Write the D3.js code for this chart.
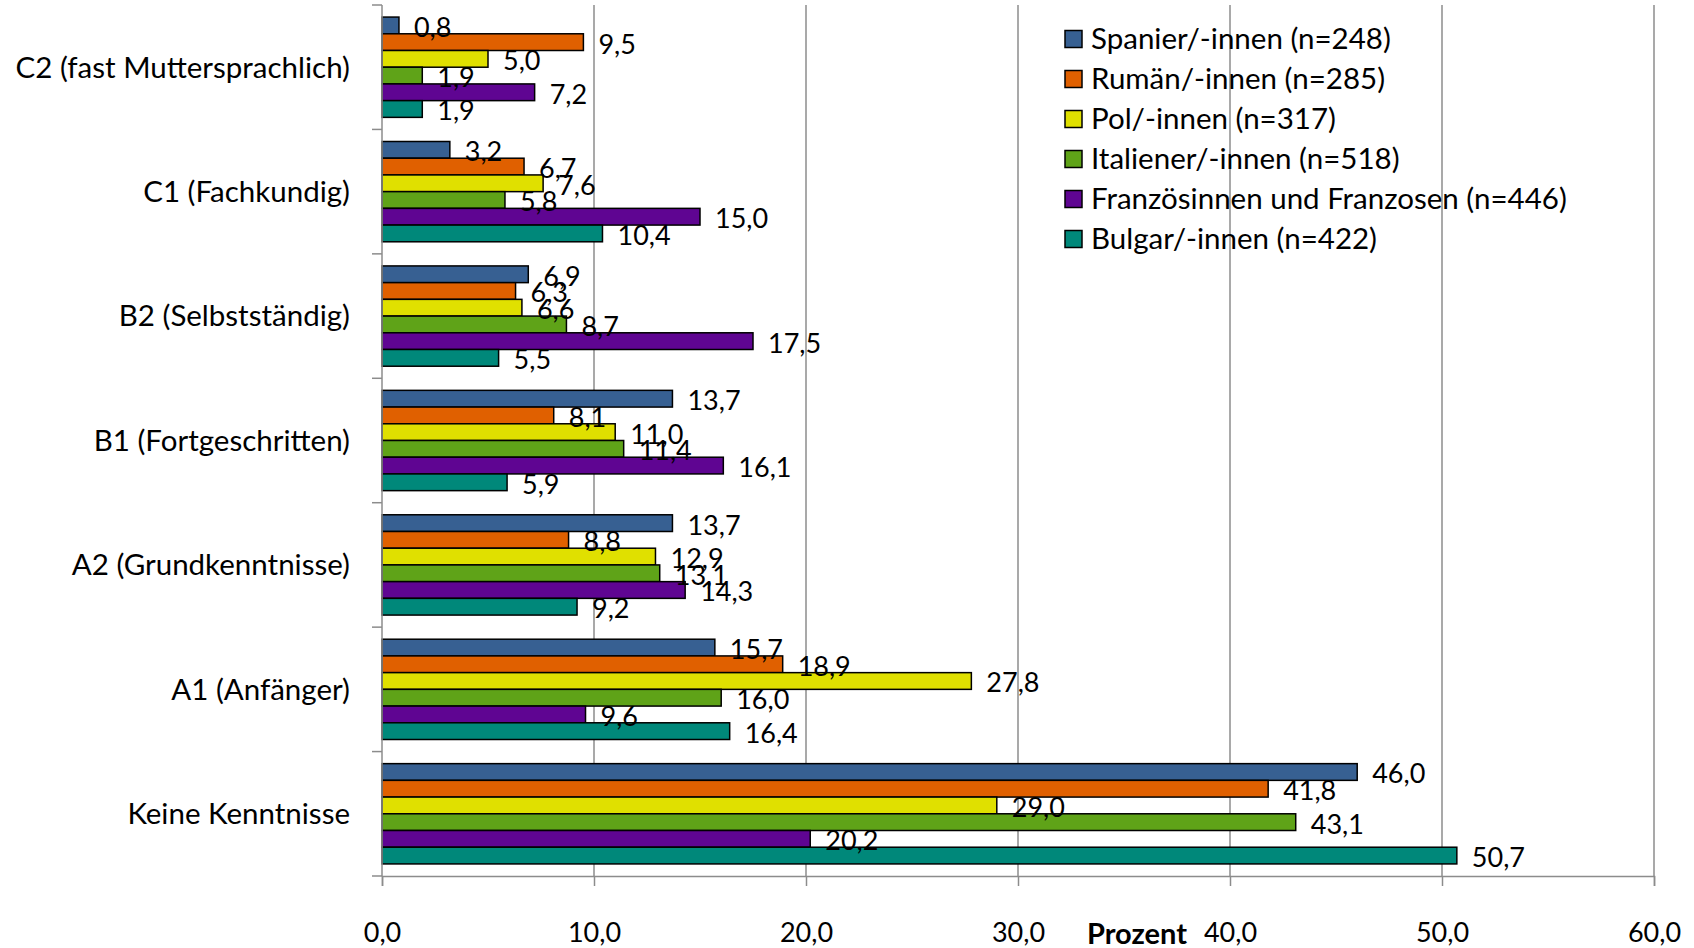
<!DOCTYPE html>
<html>
<head>
<meta charset="utf-8">
<script src="https://cdn.jsdelivr.net/npm/d3@7"></script>
<style>
  body { margin: 0; background: #fff; }
  svg { display: block; font-family: Lato, "Open Sans", sans-serif; }
</style>
</head>
<body>
<svg id="chart"></svg>
<script>
// Sprachkenntnisse nach Herkunft (Prozent)
var categories = ['C2 (fast Muttersprachlich)', 'C1 (Fachkundig)', 'B2 (Selbstständig)',
  'B1 (Fortgeschritten)', 'A2 (Grundkenntnisse)', 'A1 (Anfänger)', 'Keine Kenntnisse'];

var seriesNames = ['Spanier/-innen (n=248)', 'Rumän/-innen (n=285)', 'Pol/-innen (n=317)',
  'Italiener/-innen (n=518)', 'Französinnen und Franzosen (n=446)', 'Bulgar/-innen (n=422)'];

var spanier    = [0.8, 3.2, 6.9, 13.7, 13.7, 15.7, 46.0];
var rumaenen   = [9.5, 6.7, 6.3, 8.1, 8.8, 18.9, 41.8];
var polen      = [5.0, 7.6, 6.6, 11.0, 12.9, 27.8, 29.0];
var italiener  = [1.9, 5.8, 8.7, 11.4, 13.1, 16.0, 43.1];
var franzosen  = [7.2, 15.0, 17.5, 16.1, 14.3, 9.6, 20.2];
var bulgaren   = [1.9, 10.4, 5.5, 5.9, 9.2, 16.4, 50.7];

var xTicks = [0, 10, 20, 30, 40, 50, 60];
var colors = ['#376092', '#e06000', '#e0e000', '#5fa318', '#5f0592', '#00887a'];

var allSeries = [spanier, rumaenen, polen, italiener, franzosen, bulgaren];

var W = 1694, H = 948;
var margin = {top: 5, right: 40, bottom: 72, left: 382};
var width = 1654 - margin.left;
var height = 876 - margin.top;

var de = d3.formatLocale({decimal: ',', thousands: '.', grouping: [3], currency: ['', ' €']});
var fmt = de.format('.1f');

var svg = d3.select('#chart').attr('width', W).attr('height', H);
svg.append('rect').attr('width', W).attr('height', H).attr('fill', '#fff');

var g = svg.append('g')
    .attr('transform', 'translate(' + margin.left + ',' + margin.top + ')');

var x = d3.scaleLinear().domain([0, 60]).range([0, width]);
var y0 = d3.scaleBand().domain(categories).range([0, height])
    .paddingInner(0.194).paddingOuter(0.097);
var y1 = d3.scaleBand().domain(d3.range(seriesNames.length)).range([0, y0.bandwidth()]);

// gridlines
g.selectAll('.grid')
    .data(xTicks.slice(1))
    .enter().append('line')
    .attr('x1', function(d) { return x(d); })
    .attr('x2', function(d) { return x(d); })
    .attr('y1', 0)
    .attr('y2', height)
    .attr('stroke', '#8c8c8c')
    .attr('stroke-width', 1.5);

// bars
var groups = g.selectAll('.cat')
    .data(categories)
    .enter().append('g')
    .attr('transform', function(d) { return 'translate(0,' + y0(d) + ')'; });

groups.selectAll('rect')
    .data(function(d, i) { return allSeries.map(function(s, j) { return {s: j, v: s[i]}; }); })
    .enter().append('rect')
    .attr('x', 0)
    .attr('y', function(d) { return y1(d.s); })
    .attr('width', function(d) { return x(d.v); })
    .attr('height', y1.bandwidth())
    .attr('fill', function(d) { return colors[d.s]; })
    .attr('stroke', '#000')
    .attr('stroke-width', 1.5);

groups.selectAll('text')
    .data(function(d, i) { return allSeries.map(function(s, j) { return {s: j, v: s[i]}; }); })
    .enter().append('text')
    .attr('x', function(d) { return x(d.v) + 15; })
    .attr('y', function(d) { return y1(d.s) + y1.bandwidth() / 2 + 2; })
    .attr('dy', '0.35em')
    .attr('font-size', 27)
    .attr('fill', '#000')
    .text(function(d) { return fmt(d.v); });

// y axis
var yAxis = g.append('g')
    .call(d3.axisLeft(y0).tickSize(0).tickPadding(32));
yAxis.select('.domain').remove();
yAxis.selectAll('text').attr('font-size', 29.5).attr('font-family', 'Lato, sans-serif')
    .attr('fill', '#000').attr('dy', '0.35em');

g.append('line').attr('x1', 0).attr('x2', 0).attr('y1', 0).attr('y2', height)
    .attr('stroke', '#8c8c8c').attr('stroke-width', 1.5);
var bounds = d3.range(categories.length + 1).map(function(i) { return i * height / categories.length; });
g.selectAll('.ytick')
    .data(bounds)
    .enter().append('line')
    .attr('x1', -10).attr('x2', 0)
    .attr('y1', function(d) { return d; }).attr('y2', function(d) { return d; })
    .attr('stroke', '#8c8c8c').attr('stroke-width', 1.5);

// x axis
var xAxis = g.append('g')
    .attr('transform', 'translate(0,' + height + ')')
    .call(d3.axisBottom(x).tickValues(xTicks).tickFormat(fmt).tickSize(10).tickPadding(37));
xAxis.select('.domain').attr('stroke', '#8c8c8c').attr('stroke-width', 1.5);
xAxis.selectAll('.tick line').attr('stroke', '#8c8c8c').attr('stroke-width', 1.5);
xAxis.selectAll('text').attr('font-size', 27).attr('font-family', 'Lato, sans-serif').attr('fill', '#000');

svg.append('text')
    .attr('x', 1137)
    .attr('y', 944)
    .attr('text-anchor', 'middle')
    .attr('font-size', 29)
    .attr('font-weight', 'bold')
    .text('Prozent');

// legend
var legend = svg.append('g').attr('transform', 'translate(1065,39)');
var items = legend.selectAll('g')
    .data(seriesNames)
    .enter().append('g')
    .attr('transform', function(d, i) { return 'translate(0,' + (i * 40) + ')'; });
items.append('rect')
    .attr('x', 0).attr('y', -8.5)
    .attr('width', 17).attr('height', 17)
    .attr('fill', function(d, i) { return colors[i]; })
    .attr('stroke', '#000').attr('stroke-width', 1.5);
items.append('text')
    .attr('x', 26)
    .attr('dy', '0.35em')
    .attr('font-size', 29.5)
    .text(function(d) { return d; });
</script>
</body>
</html>
